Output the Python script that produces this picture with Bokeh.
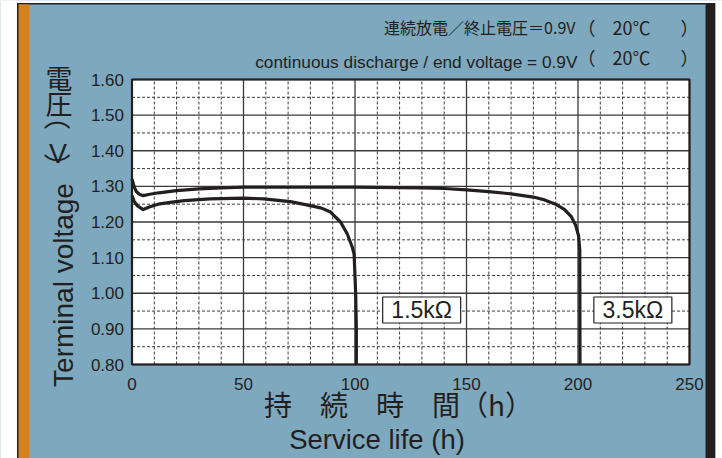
import numpy as np
from bokeh.plotting import figure
from bokeh.models import Range1d
from bokeh.core.properties import value
from bokeh.embed import file_html
from bokeh.resources import INLINE

# ---- data ----
hours_15k = [0, 1, 2.5, 5, 8, 12.5, 18, 23.5, 35, 50, 59, 71, 80, 85, 89, 93.5, 96.5, 98.8, 99.6, 100.3, 100.6, 100.6]
volts_15k = [1.274, 1.258, 1.245, 1.235, 1.243, 1.251, 1.256, 1.260, 1.265, 1.267, 1.265, 1.257, 1.246, 1.239, 1.228, 1.200, 1.167, 1.129, 1.110, 1.000, 0.900, 0.800]

hours_35k = [0, 1, 2, 3.5, 5, 8, 12, 20, 30, 40, 50, 100, 130, 140, 150, 160, 170, 180, 185, 190, 194, 197, 199, 200.3, 200.8, 200.9]
volts_35k = [1.321, 1.298, 1.285, 1.277, 1.274, 1.278, 1.282, 1.288, 1.293, 1.296, 1.298, 1.298, 1.296, 1.294, 1.290, 1.285, 1.279, 1.270, 1.262, 1.250, 1.235, 1.215, 1.190, 1.160, 1.120, 0.800]

series_labels = ["1.5kΩ", "3.5kΩ"]
label_hours = [129.9, 224.6]
label_volts = [0.953, 0.953]

x_ticks = [0, 50, 100, 150, 200, 250]
y_ticks = [0.80, 0.90, 1.00, 1.10, 1.20, 1.30, 1.40, 1.50, 1.60]
x_tick_text = ["0", "50", "100", "150", "200", "250"]
y_tick_text = ["0.80", "0.90", "1.00", "1.10", "1.20", "1.30", "1.40", "1.50", "1.60"]

title_jp = "連続放電／終止電圧＝0.9V"
title_en = "continuous discharge / end voltage = 0.9V"
title_temp = ["（", "20℃", "）"]
xlabel_jp = "持　続　時　間（h）"
xlabel_en = "Service life (h)"
ylabel_jp = ["電", "圧"]
ylabel_unit = ["（", "V", "）"]
ylabel_en = "Terminal voltage"

# ---- style / layout ----
BLUE = "#7EA8BE"
ORANGE = "#D5811C"
INK = "#231F20"
LATIN = "Liberation Sans"
CJK = "Noto Sans CJK JP"

FIG_X0, FIG_Y0, W, H = 0, 0, 722, 458          # figure position on the page
PX0, PX1, PY0, PY1 = 131.5, 689.0, 364.0, 79.0   # frame edges on the page
sx = (PX1 - PX0) / (x_ticks[-1] - x_ticks[0])
sy = (PY0 - PY1) / (y_ticks[-1] - y_ticks[0])


def X(px):
    return x_ticks[0] + (px - PX0) / sx


def Y(py):
    return y_ticks[0] + (PY0 - py) / sy


p = figure(width=W, height=H, output_backend="svg", toolbar_location=None,
           x_range=Range1d(X(FIG_X0), X(FIG_X0 + W)), y_range=Range1d(Y(FIG_Y0 + H), Y(FIG_Y0)),
           min_border=0)
p.axis.visible = False
p.grid.visible = False
p.outline_line_color = None
p.border_fill_color = BLUE
p.background_fill_color = BLUE

ybot, ytop = Y(FIG_Y0 + H + 5), Y(FIG_Y0 - 5)
xl, xr = X(FIG_X0 - 5), X(FIG_X0 + W + 5)
# page decorations: white margins, top rule, orange strip, dark right bar
p.quad(left=[xl], right=[X(17)], bottom=[ybot], top=[ytop], fill_color="white", line_color=None)
p.quad(left=[xl], right=[xr], bottom=[Y(2.5)], top=[ytop], fill_color="white", line_color=None)
p.quad(left=[X(16.5)], right=[X(705)], bottom=[Y(4)], top=[Y(2.5)], fill_color=INK, line_color=None)
p.quad(left=[X(17)], right=[X(29)], bottom=[ybot], top=[Y(4)], fill_color=ORANGE, line_color=None)
p.quad(left=[X(16.5)], right=[X(18)], bottom=[ybot], top=[Y(2.5)], fill_color=INK, line_color=None)
p.quad(left=[X(705)], right=[X(715)], bottom=[ybot], top=[Y(2.5)], fill_color=INK, line_color=None)
p.quad(left=[X(715)], right=[xr], bottom=[ybot], top=[ytop], fill_color="white", line_color=None)

# plot area
x0, x1, y0, y1 = x_ticks[0], x_ticks[-1], y_ticks[0], y_ticks[-1]
p.quad(left=[x0], right=[x1], bottom=[y0], top=[y1], fill_color="white", line_color=None)

minor_x = []
for a, b in zip(x_ticks[:-1], x_ticks[1:]):
    minor_x += list(np.linspace(a, b, 6)[1:-1])
minor_y = [(a + b) / 2 for a, b in zip(y_ticks[:-1], y_ticks[1:])]

p.segment(x0=minor_x, x1=minor_x, y0=[y0] * len(minor_x), y1=[y1] * len(minor_x),
          line_color="#3c3c3c", line_width=1, line_dash="3 2")
p.segment(x0=[x0] * len(minor_y), x1=[x1] * len(minor_y), y0=minor_y, y1=minor_y,
          line_color="#3c3c3c", line_width=1, line_dash="3 2")
p.segment(x0=x_ticks, x1=x_ticks, y0=[y0] * len(x_ticks), y1=[y1] * len(x_ticks),
          line_color="#3a3a3a", line_width=1.3)
p.segment(x0=[x0] * len(y_ticks), x1=[x1] * len(y_ticks), y0=y_ticks, y1=y_ticks,
          line_color="#3a3a3a", line_width=1.3)

p.line(hours_15k, volts_15k, line_width=3.2, color=INK, line_join="round")
p.line(hours_35k, volts_35k, line_width=3.2, color=INK, line_join="round")

p.quad(left=[x0], right=[x1], bottom=[y0], top=[y1], fill_color=None, line_color=INK, line_width=2.2)

# series labels in boxes
p.rect(x=label_hours, y=label_volts, width=78, height=26, width_units="screen", height_units="screen",
       fill_color="white", line_color=INK, line_width=1.2)
p.text(x=label_hours, y=label_volts, text=series_labels, text_font=value(LATIN), text_font_size="23px",
       text_color=INK, text_align="center", text_baseline="middle")

# tick labels
p.text(x=x_ticks, y=[y0] * len(x_ticks), text=x_tick_text, y_offset=19, text_font=value(LATIN),
       text_font_size="17px", text_color=INK, text_align="center", text_baseline="alphabetic")
p.text(x=[x0] * len(y_ticks), y=y_ticks, text=y_tick_text, x_offset=-8, text_font=value(LATIN),
       text_font_size="17px", text_color=INK, text_align="right", text_baseline="middle")

# titles (two lines, each ending with the temperature in parentheses)
p.text(x=[X(575)], y=[Y(26.5)], text=[title_jp], text_font=value(CJK), text_font_size="16px",
       text_color=INK, text_align="right", text_baseline="middle")
p.text(x=[X(577)], y=[Y(61.5)], text=[title_en], text_font=value(LATIN), text_font_size="17.3px",
       text_color=INK, text_align="right", text_baseline="alphabetic")
for line_y in (Y(26.5), Y(56)):
    p.text(x=[X(577), X(631), X(680)], y=[line_y] * 3, text=title_temp, text_font=value(CJK),
           text_font_size="18px", text_color=INK, text_align=["left", "center", "left"],
           text_baseline="middle")

p.text(x=[X(398)], y=[Y(403.5)], text=[xlabel_jp], text_font=value(CJK), text_font_size="28px",
       text_color=INK, text_align="center", text_baseline="middle")
p.text(x=[X(376.5)], y=[Y(439)], text=[xlabel_en], text_font=value(LATIN), text_font_size="27.5px",
       text_color=INK, text_align="center", text_baseline="alphabetic")

# vertical Japanese label: 電 圧 ︵V︶ upright, then the rotated English label
p.text(x=[X(58.5)] * 2, y=[Y(76.5), Y(103)], text=ylabel_jp, text_font=value(CJK), text_font_size="27px",
       text_color=INK, text_align="center", text_baseline="middle")
p.text(x=[X(57.5)] * 2, y=[Y(116), Y(166)], text=[ylabel_unit[0], ylabel_unit[2]], text_font=value(CJK),
       text_font_size="27px", text_color=INK, text_align="center", text_baseline="middle", angle=-np.pi / 2)
p.text(x=[X(57.5)], y=[Y(153)], text=[ylabel_unit[1]], text_font=value(LATIN),
       text_font_size="27px", text_color=INK, text_align="center", text_baseline="alphabetic")
p.text(x=[X(63.3)], y=[Y(284.5)], text=[ylabel_en], text_font=value(LATIN), text_font_size="28px",
       text_color=INK, text_align="center", text_baseline="alphabetic", angle=np.pi / 2)

open("out.html", "w").write(file_html(p, INLINE))
